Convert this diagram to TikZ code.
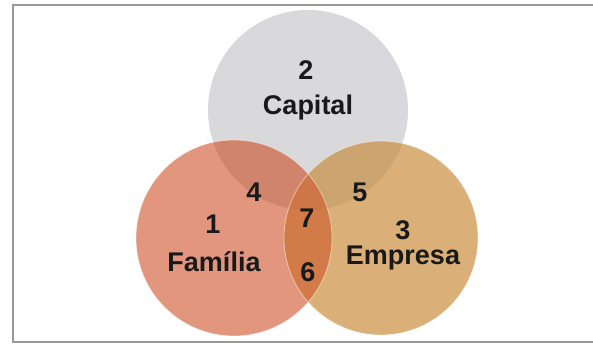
\documentclass[tikz,border=0pt]{standalone}
\usepackage{fontspec}
\setmainfont{Liberation Sans}

\definecolor{capitalgray}{RGB}{217,217,219}
\definecolor{familiared}{RGB}{225,150,125}
\definecolor{empresatan}{RGB}{218,175,120}
\definecolor{capfam}{RGB}{208,132,108}
\definecolor{capemp}{RGB}{204,164,112}
\definecolor{famemp}{RGB}{210,122,72}
\definecolor{allthree}{RGB}{206,118,70}

\newcommand{\capcircle}{(308,110) circle (100)}
\newcommand{\famcircle}{(234,238) circle (98)}
\newcommand{\empcircle}{(381,238) circle (97)}

\tikzset{
  lbl/.style={font=\fontsize{27}{30}\selectfont\bfseries, text=black!90, inner sep=0pt},
  frameline/.style={draw=black!40, line width=1.5pt},
}

\begin{document}
\begin{tikzpicture}[x=1pt, y=-1pt]
\useasboundingbox (0,0) rectangle (593,344);
\fill[white] (0,0) rectangle (593,344);
\draw[frameline] (593,5) -- (13,5) -- (13,342) -- (593,342);

% the three sets
\fill[capitalgray] \capcircle;
\fill[familiared] \famcircle;
\fill[empresatan] \empcircle;
\begin{scope}
  \clip \capcircle;
  \fill[capfam] \famcircle;
  \fill[capemp] \empcircle;
\end{scope}
\begin{scope}
  \clip \famcircle;
  \fill[famemp] \empcircle;
  \clip \capcircle;
  \fill[allthree] \empcircle;
\end{scope}
\draw[white, opacity=.5, line width=.8pt] \famcircle \empcircle;

% labels
\node[lbl] (n2) at (306,70) {2};
\node[lbl] (capital) at (308,108) {Capital};
\node[lbl] (n1) at (213,224) {1};
\node[lbl] (familia) at (214,262) {Família};
\node[lbl] (n3) at (403,230) {3};
\node[lbl] (empresa) at (403,258) {Empresa};
\node[lbl] (n4) at (254,192) {4};
\node[lbl] (n5) at (360,192) {5};
\node[lbl] (n7) at (307,218) {7};
\node[lbl] (n6) at (308,272) {6};
\end{tikzpicture}
\end{document}
